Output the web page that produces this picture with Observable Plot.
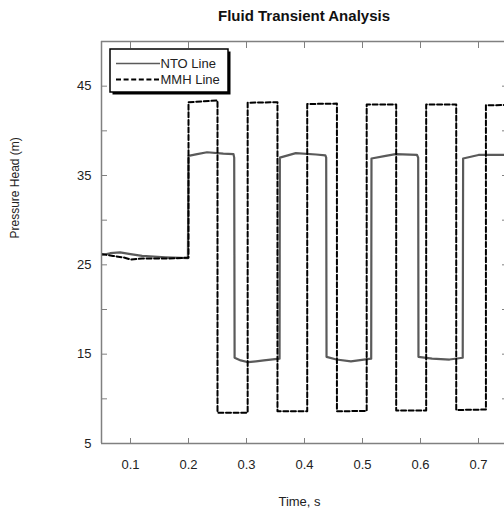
<!DOCTYPE html>
<html>
<head>
<meta charset="utf-8">
<script src="https://cdn.jsdelivr.net/npm/d3@7"></script>
<script src="https://cdn.jsdelivr.net/npm/@observablehq/plot@0.6"></script>
<style>
  body { margin: 0; background: #fff; }
  #wrap { position: relative; width: 504px; height: 515px; overflow: hidden; font-family: "Liberation Sans", Arial, Helvetica, sans-serif; }
  #title { position: absolute; top: 6px; left: 101px; width: 406px; text-align: center; font-weight: bold; font-size: 15px; line-height: 20px; color: #111; }
  #legend { position: absolute; left: 0; top: 0; }
  #wrap > svg.plot { display: block; max-width: none !important; width: 512px !important; height: 515px !important; }
</style>
</head>
<body>
<div id="wrap">
  <div id="title">Fluid Transient Analysis</div>
</div>
<script>
// ---- data ----
const ntoTime = [0.05, 0.065, 0.082, 0.10, 0.12, 0.16, 0.199,
  0.200, 0.215, 0.232, 0.260, 0.2775, 0.2788,
  0.2795, 0.290, 0.303, 0.330, 0.357,
  0.3575, 0.385, 0.420, 0.436, 0.4374,
  0.4380, 0.455, 0.480, 0.515,
  0.5155, 0.540, 0.557, 0.594, 0.596,
  0.5965, 0.620, 0.650, 0.6728,
  0.6735, 0.700, 0.750];
const ntoHead = [26.1, 26.3, 26.4, 26.2, 26.0, 25.85, 25.75,
  37.2, 37.4, 37.6, 37.45, 37.4, 37.0,
  14.6, 14.3, 14.1, 14.3, 14.5,
  37.0, 37.5, 37.35, 37.25, 37.0,
  14.7, 14.4, 14.2, 14.5,
  36.9, 37.2, 37.4, 37.3, 37.0,
  14.7, 14.5, 14.4, 14.6,
  36.9, 37.3, 37.3];

const mmhTime = [0.05, 0.07, 0.09, 0.10, 0.12, 0.16, 0.200,
  0.200, 0.250,
  0.250, 0.302,
  0.302, 0.3534,
  0.3534, 0.4047,
  0.4047, 0.4559,
  0.4559, 0.5072,
  0.5072, 0.5581,
  0.5581, 0.6098,
  0.6098, 0.6616,
  0.6616, 0.7128,
  0.7128, 0.750];
const mmhHead = [26.2, 26.0, 25.8, 25.6, 25.7, 25.7, 25.8,
  43.2, 43.4,
  8.45, 8.45,
  43.15, 43.2,
  8.6, 8.6,
  43.0, 43.05,
  8.6, 8.65,
  42.95, 42.95,
  8.7, 8.7,
  42.95, 42.95,
  8.75, 8.8,
  42.85, 42.9];

const xTicks = [0.1, 0.2, 0.3, 0.4, 0.5, 0.6, 0.7];
const yTicks = [5, 10, 15, 20, 25, 30, 35, 40, 45];
const yLabels = [5, 15, 25, 35, 45];
const xDomain = [0.05, 0.75];
const yDomain = [5, 50];
const seriesNames = ["NTO Line", "MMH Line"];

const nto = ntoTime.map((t, i) => ({t, p: ntoHead[i]}));
const mmh = mmhTime.map((t, i) => ({t, p: mmhHead[i]}));

const gray = "#808080";
const font = "Liberation Sans, Arial, Helvetica, sans-serif";

const chart = Plot.plot({
  width: 512,
  height: 515,
  marginLeft: 101,
  marginRight: 5,
  marginTop: 41,
  marginBottom: 72,
  style: {fontFamily: font, fontSize: "13px", color: "#222", background: "transparent", maxWidth: "none"},
  x: {domain: xDomain},
  y: {domain: yDomain},
  marks: [
    Plot.line(nto, {x: "t", y: "p", stroke: "#5a5a5a", strokeWidth: 2.2, clip: true}),
    Plot.line(mmh, {x: "t", y: "p", stroke: "#000", strokeWidth: 2, strokeDasharray: "5,2.6", clip: true}),
    // axis box lines (left, top, bottom; right side lies outside the picture)
    Plot.ruleX([xDomain[0]], {stroke: gray, strokeWidth: 1.5}),
    Plot.ruleY(yDomain, {stroke: gray, strokeWidth: 1.5}),
    // inward ticks
    Plot.axisY({anchor: "left", ticks: yTicks, tickSize: 6, dx: 6, tickFormat: () => "", label: null, stroke: gray}),
    Plot.axisY({anchor: "right", ticks: yTicks, tickSize: 6, dx: -6, tickFormat: () => "", label: null, stroke: gray}),
    Plot.axisX({anchor: "bottom", ticks: xTicks, tickSize: 5, dy: -5, tickFormat: () => "", label: null, stroke: gray}),
    Plot.axisX({anchor: "top", ticks: xTicks, tickSize: 6, dy: 6, tickFormat: () => "", label: null, stroke: gray}),
    // labels
    Plot.axisY({anchor: "left", ticks: yLabels, tickSize: 0, tickPadding: 10, label: null, fontSize: 13, fill: "#222"}),
    Plot.axisX({anchor: "bottom", ticks: xTicks, tickSize: 0, tickPadding: 16, tickFormat: d3.format(".1f"), label: null, fontSize: 13, fill: "#222"}),
    Plot.text(["Time, s"], {frameAnchor: "bottom", dy: 62, dx: -5, fontSize: 13, fill: "#222"}),
    Plot.text(["Pressure Head (m)"], {frameAnchor: "left", dx: -86, dy: -4, rotate: -90, fontSize: 12, fill: "#222"})
  ]
});
document.getElementById("wrap").appendChild(chart);

// legend overlay
const lg = d3.select("#wrap").append("svg").attr("id", "legend")
  .attr("width", 504).attr("height", 515);
const bx = 110, by = 49, bw = 118, bh = 43;
lg.append("rect").attr("x", bx + 2.5).attr("y", by + 2.5).attr("width", bw).attr("height", bh).attr("fill", "#000");
lg.append("rect").attr("x", bx).attr("y", by).attr("width", bw).attr("height", bh).attr("fill", "#fff").attr("stroke", "#000").attr("stroke-width", 1.5);
const rows = [{y: 63.5, stroke: "#5a5a5a", dash: null, w: 1.6}, {y: 79.5, stroke: "#000", dash: "5,2.6", w: 2}];
rows.forEach((r, i) => {
  lg.append("line").attr("x1", 116).attr("x2", 160).attr("y1", r.y).attr("y2", r.y)
    .attr("stroke", r.stroke).attr("stroke-width", r.w).attr("stroke-dasharray", r.dash);
  lg.append("text").attr("x", 160.5).attr("y", r.y + 4.6).attr("font-family", font).attr("font-size", 13)
    .attr("fill", "#222").text(seriesNames[i]);
});
</script>
</body>
</html>
